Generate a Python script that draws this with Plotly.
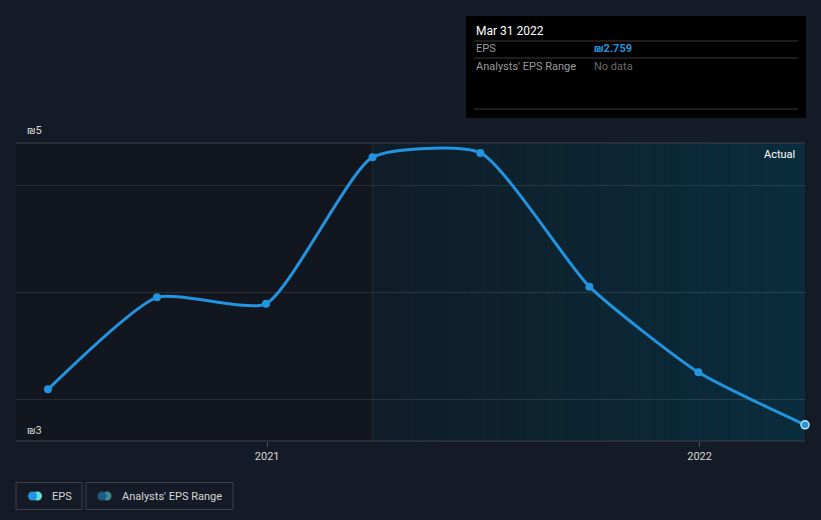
import plotly.graph_objects as go
import pandas as pd

# ---- data ----
dates = ["2020-06-30", "2020-09-30", "2020-12-31", "2021-03-31",
         "2021-06-30", "2021-09-30", "2021-12-31", "2022-03-31"]
eps = [3.09, 3.95, 3.89, 5.26, 5.30, 4.05, 3.25, 2.759]
y_tick_vals = [3, 4, 5]
y_labels = ["₪5", "₪3"]
x_tick_vals = ["2021-01-01", "2022-01-01"]
x_tick_text = ["2021", "2022"]
actual_start = "2021-03-31"
tooltip_date = "Mar 31 2022"
tooltip_value = "₪2.759"

W, H = 821, 520
L, R, T, B = 16, 16, 143, 79
PW, PH = W - L - R, H - T - B

def px(x):
    return (x - L) / PW

def py(y):
    return (H - B - y) / PH

BG = "#151b26"
LINE = "#2394df"
FONT = "Roboto, DejaVu Sans"

x_range = ["2020-06-03", "2022-03-31"]
y_range = [2.6075, 5.3925]

fig = go.Figure()

fig.add_trace(go.Scatter(
    x=dates, y=eps, mode="lines+markers",
    line=dict(color=LINE, width=3, shape="spline", smoothing=0.55),
    marker=dict(size=8, color=LINE,
                line=dict(width=[0]*(len(eps)-1) + [1.5],
                          color=["#ffffff"]*(len(eps)-1) + ["#bfe3fa"])),
    cliponaxis=False, hoverinfo="skip", showlegend=False))

shapes = []
# darker past region
shapes.append(dict(type="rect", xref="x", yref="paper", x0=x_range[0], x1=actual_start,
                   y0=0, y1=1, fillcolor="#12161f", line=dict(width=0), layer="below"))
# gradient actual region
N = 40
edges = pd.date_range(pd.Timestamp(actual_start), pd.Timestamp(x_range[1]), periods=N + 1)
c0 = (0x0f, 0x1d, 0x28)
c1 = (0x0a, 0x2d, 0x3d)
for i in range(N):
    t = i / (N - 1)
    c = tuple(round(c0[k] + (c1[k] - c0[k]) * t) for k in range(3))
    shapes.append(dict(type="rect", xref="x", yref="paper", x0=edges[i], x1=edges[i + 1],
                       y0=0, y1=1, fillcolor="rgb(%d,%d,%d)" % c,
                       line=dict(width=0), layer="below"))
# divider at actual start
shapes.append(dict(type="line", xref="x", yref="paper", x0=actual_start, x1=actual_start,
                   y0=0, y1=1, line=dict(color="#1a2f3a", width=1), layer="below"))
# top/bottom borders
for yy in (0, 1):
    shapes.append(dict(type="line", xref="paper", yref="paper", x0=0, x1=1, y0=yy, y1=yy,
                       line=dict(color="#3b414b", width=1.2), layer="below"))

# tooltip box
shapes.append(dict(type="rect", xref="paper", yref="paper", x0=px(466), x1=px(806),
                   y0=py(118), y1=py(16), fillcolor="#000000", line=dict(width=0)))
for yy in (41, 58, 109):
    shapes.append(dict(type="line", xref="paper", yref="paper", x0=px(474), x1=px(798),
                       y0=py(yy), y1=py(yy), line=dict(color="#3a3a3a", width=1)))

# legend boxes
for x0, x1 in ((16, 82), (86, 233)):
    shapes.append(dict(type="rect", xref="paper", yref="paper", x0=px(x0), x1=px(x1),
                       y0=py(509.5), y1=py(482.5), line=dict(color="#3a3f48", width=1),
                       fillcolor="rgba(0,0,0,0)"))
def circle(cx, cy, r, color):
    return dict(type="circle", xref="paper", yref="paper", x0=px(cx - r), x1=px(cx + r),
                y0=py(cy + r), y1=py(cy - r), fillcolor=color, line=dict(width=0))
shapes.append(circle(37.5, 496, 4.5, "#5ee0d8"))
shapes.append(circle(32.5, 496, 4.5, LINE))
shapes.append(circle(107, 496, 4.5, "#3d8a8a"))
shapes.append(circle(102, 496, 4.5, "#1b5c86"))

annotations = []
def txt(x, y, s, color, size=11, xanchor="left"):
    annotations.append(dict(xref="paper", yref="paper", x=px(x), y=py(y), text=s,
                            showarrow=False, xanchor=xanchor, yanchor="middle",
                            font=dict(family=FONT, size=size, color=color)))

txt(25, 130, y_labels[0], "#d6d6d6")
txt(25, 430, y_labels[1], "#d6d6d6")
txt(797, 154, "Actual", "#ffffff")
annotations[-1]["xanchor"] = "right"
txt(474, 31, tooltip_date, "#ffffff", size=12)
txt(474, 49, "EPS", "#9a9a9a")
txt(592, 49, "<b>" + tooltip_value + "</b>", LINE)
txt(474, 66, "Analysts' EPS Range", "#9a9a9a")
txt(592, 66, "No data", "#6b6b6b")
txt(50, 496, "EPS", "#d6d6d6")
txt(120, 496, "Analysts' EPS Range", "#d6d6d6")

fig.update_layout(
    width=W, height=H, autosize=False,
    margin=dict(l=L, r=R, t=T, b=B),
    paper_bgcolor=BG, plot_bgcolor=BG,
    shapes=shapes, annotations=annotations,
    xaxis=dict(range=x_range, type="date", tickvals=x_tick_vals, ticktext=x_tick_text,
               showgrid=False, zeroline=False, showline=False,
               ticks="outside", ticklen=5, tickcolor="#4a505a",
               tickfont=dict(family=FONT, size=11, color="#d6d6d6")),
    yaxis=dict(range=y_range, tickvals=y_tick_vals, showticklabels=False,
               showgrid=True, gridcolor="rgba(255,255,255,0.1)", gridwidth=1,
               zeroline=False, showline=False),
)

fig.write_html("out.html")
